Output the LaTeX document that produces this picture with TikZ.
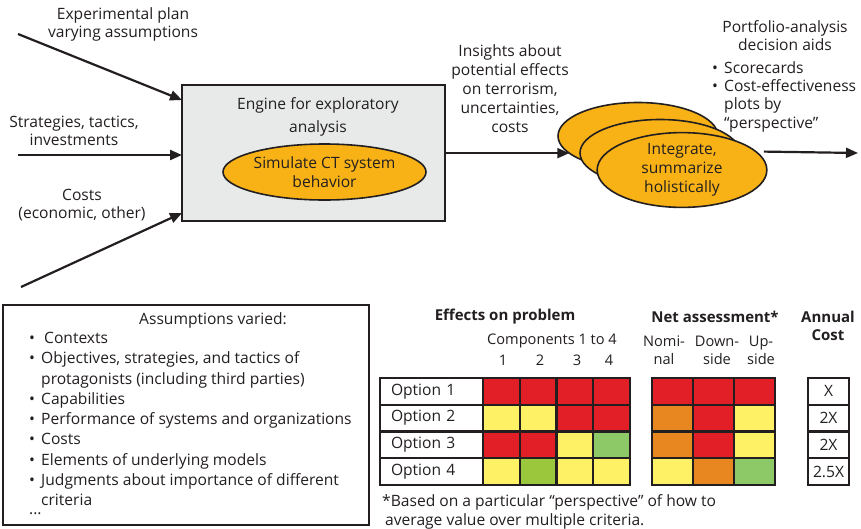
\documentclass[tikz,border=0pt]{standalone}
\usepackage{fontspec}
\setmainfont{Open Sans}
\usetikzlibrary{arrows.meta,shapes.geometric,calc}
\definecolor{txt}{RGB}{35,31,32}
\definecolor{engfill}{RGB}{232,234,234}
\definecolor{ell}{RGB}{248,178,22}
\definecolor{cred}{RGB}{226,30,38}
\definecolor{cyel}{RGB}{255,241,102}
\definecolor{corg}{RGB}{232,134,32}
\definecolor{cgrn}{RGB}{142,201,104}
\definecolor{cygn}{RGB}{155,199,60}
\newcommand{\fs}{15.6}
\tikzset{
  lbl/.style={align=center, font=\fontsize{\fs}{18}\selectfont, text=txt, inner sep=0pt},
  hdr/.style={align=center, font=\fontsize{15}{18}\selectfont\bfseries, text=txt, inner sep=0pt},
  arr/.style={line width=2.2pt, draw=txt, -{Triangle[length=12pt,width=10pt]}},
  oval/.style={ellipse, draw=txt, line width=1.6pt, fill=ell, inner sep=0pt, outer sep=0pt,
    align=center, font=\fontsize{\fs}{19}\selectfont, text=txt},
  tcell/.style={draw=txt, line width=2.2pt, inner sep=0pt, outer sep=0pt, minimum height=26.75pt},
  optcell/.style={tcell, minimum width=103pt, text width=81pt, inner xsep=11pt, align=left,
    font=\fontsize{\fs}{16}\selectfont, text=txt},
  compcell/.style={tcell, minimum width=36.75pt},
  netcell/.style={tcell, minimum width=41pt},
  costcell/.style={tcell, minimum width=41pt, fill=white, font=\fontsize{\fs}{16}\selectfont, text=txt},
}
\begin{document}
\begin{tikzpicture}[x=1pt,y=-1pt]
\useasboundingbox (0,0) rectangle (861,528);
\fill[white] (0,0) rectangle (861,528);

% engine box
\node[draw=txt, line width=1.6pt, fill=engfill, minimum width=263pt, minimum height=136pt,
  inner sep=0pt, outer sep=0pt, anchor=north west] (engine) at (182,85) {};
\node[lbl, font=\fontsize{\fs}{23}\selectfont] (engtxt) at (318,117) {Engine for exploratory\\analysis};
\node[oval, minimum width=203pt, minimum height=56pt] (sim) at (324.5,172) {Simulate CT system\\behavior};

% inputs
\node[lbl] (l1) at (123,24) {Experimental plan\\varying assumptions};
\node[lbl] (l2) at (74,131) {Strategies, tactics,\\investments};
\node[lbl] (l3) at (82,205) {Costs\\(economic, other)};
\coordinate (s1) at (18,34);
\coordinate (s2) at (18,155);
\coordinate (s3) at (21,287);
\draw[arr] (s1) -- ($(engine.north west)+(0,15)$);
\draw[arr] (s2) -- (engine.west |- s2);
\draw[arr] (s3) -- ($(engine.south west)+(0,-8)$);

% stacked ellipses
\node[oval, minimum width=160pt, minimum height=67pt] (e1) at (638,136) {};
\node[oval, minimum width=160pt, minimum height=67pt] (e2) at (660,153) {};
\node[oval, minimum width=160pt, minimum height=67pt] (e3) at (682,170) {\raisebox{-2pt}{\parbox{120pt}{\centering Integrate,\\summarize\\holistically}}};

\node[lbl, font=\fontsize{\fs}{19}\selectfont] (ins) at (510,89) {Insights about\\potential effects\\on terrorism,\\uncertainties,\\costs};
\draw[arr] (engine.east |- e1.194) -- (e1.194);

\node[lbl] (port) at (785,36) {Portfolio-analysis\\decision aids};
\node[lbl, align=left, anchor=west, font=\fontsize{\fs}{18.3}\selectfont] (aids) at (712,96.5)
  {\makebox[12pt][l]{•}Scorecards\\\makebox[12pt][l]{•}Cost-effectiveness\\\hspace*{12pt}plots by\\\hspace*{12pt}“perspective”};
\coordinate (out) at (858,153);
\draw[arr] ([xshift=8pt]e3.14) -- (out);

% assumptions box
\node[draw=txt, line width=1.8pt, minimum width=366pt, minimum height=220pt, inner sep=0pt,
  outer sep=0pt, anchor=north west] (assum) at (3,305) {};
\node[lbl] (atitle) at (213,320) {Assumptions varied:};
\node[lbl, align=left, anchor=west, font=\fontsize{\fs}{20.25}\selectfont] (alist) at (29,419)
  {\makebox[12pt][l]{•}\hspace{3pt}Contexts\\
   \makebox[12pt][l]{•}Objectives, strategies, and tactics of\\
   \hspace*{12pt}protagonists (including third parties)\\
   \makebox[12pt][l]{•}Capabilities\\
   \makebox[12pt][l]{•}Performance of systems and organizations\\
   \makebox[12pt][l]{•}Costs\\
   \makebox[12pt][l]{•}Elements of underlying models\\
   \makebox[12pt][l]{•}Judgments about importance of different\\
   \hspace*{12pt}criteria};
\node[lbl, anchor=west] (adots) at (29,514) {...};

% table headers
\node[hdr] (heff) at (505,317) {Effects on problem};
\node[hdr] (hnet) at (715,317) {Net assessment*};
\node[hdr] (hcost) at (828,326) {Annual\\Cost};
\node[lbl, font=\fontsize{14.6}{18}\selectfont] (hcomp) at (552,341) {Components 1 to 4};
\foreach \k/\xx in {1/503,2/540,3/577,4/609} {
  \node[lbl, font=\fontsize{14.6}{18}\selectfont] (num\k) at (\xx,360) {\k};
}
\node[lbl, font=\fontsize{14.6}{18}\selectfont] (hnom) at (664,350) {Nomi-\\nal};
\node[lbl, font=\fontsize{14.6}{18}\selectfont] (hdown) at (717,350) {Down-\\side};
\node[lbl, font=\fontsize{14.6}{18}\selectfont] (hup) at (761,350) {Up-\\side};

% table cells
\foreach \r/\ca/\cb/\cc/\cd/\na/\nb/\nc/\cv in {
  1/cred/cred/cred/cred/cred/cred/cred/X,
  2/cyel/cyel/cred/cred/corg/cred/cyel/2X,
  3/cred/cred/cyel/cgrn/corg/cred/cyel/2X,
  4/cyel/cygn/cyel/cyel/cyel/corg/cgrn/2.5X} {
  \pgfmathsetmacro{\yc}{378+(\r-0.5)*26.75}
  \node[optcell] (opt\r) at (431.5,\yc) {Option \r};
  \foreach \k/\col in {1/\ca,2/\cb,3/\cc,4/\cd} {
    \pgfmathsetmacro{\xc}{483+(\k-0.5)*36.75}
    \node[compcell, fill=\col] (c\r-\k) at (\xc,\yc) {};
  }
  \foreach \k/\col in {1/\na,2/\nb,3/\nc} {
    \pgfmathsetmacro{\xc}{652+(\k-0.5)*41}
    \node[netcell, fill=\col] (n\r-\k) at (\xc,\yc) {};
  }
  \node[costcell] (cost\r) at (828.5,\yc) {\cv};
}

% footnote
\node[lbl, align=left, anchor=north west, font=\fontsize{\fs}{19}\selectfont] (foot) at (382,494)
  {*Based on a particular “perspective” of how to\\\hspace*{3pt}average value over multiple criteria.};
\end{tikzpicture}
\end{document}
